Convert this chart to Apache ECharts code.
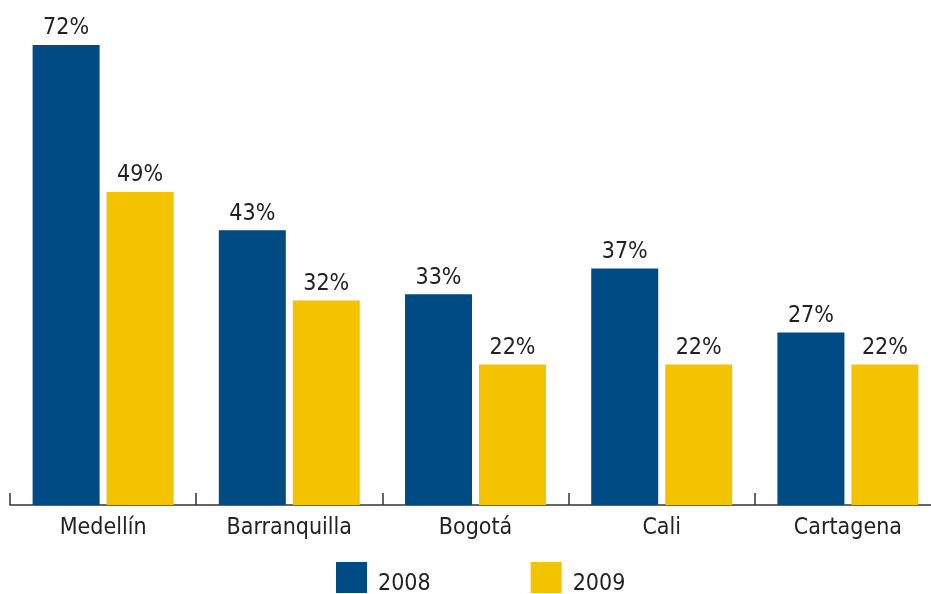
<!DOCTYPE html>
<html>
<head>
<meta charset="utf-8">
<script src="https://cdn.jsdelivr.net/npm/echarts@6/dist/echarts.min.js"></script>
<style>
  html, body { margin: 0; padding: 0; background: #fff; overflow: hidden; }
  #main { width: 941px; height: 594px; }
</style>
</head>
<body>
<div id="main"></div>
<script>
// ciudades y porcentajes por año
var ciudades = ['Medellín', 'Barranquilla', 'Bogotá', 'Cali', 'Cartagena'];
var anios = ['2008', '2009'];
var valores2008 = [72, 43, 33, 37, 27];
var valores2009 = [49, 32, 22, 22, 22];

var fuente = '"Liberation Sans Narrow", "DejaVu Sans Condensed", "Liberation Sans", sans-serif';
var myChart = echarts.init(document.getElementById('main'));

function serie(nombre, datos, color) {
    return {
        name: nombre,
        type: 'bar',
        data: datos,
        barWidth: 67,
        barGap: '10.4%',
        itemStyle: { color: color },
        label: {
            show: true,
            position: 'top',
            distance: 5,
            formatter: '{c}%',
            color: '#222',
            fontSize: 23,
            fontFamily: fuente
        }
    };
}

// el eje sigue un poco más allá del borde derecho
var option = {
    animation: false,
    backgroundColor: '#fff',
    textStyle: { fontFamily: fuente },
    grid: {
        left: 10,
        right: 0,
        top: 45,
        bottom: 89,
        containLabel: false
    },
    legend: {
        data: anios,
        left: 336,
        top: 562,
        padding: 0,
        icon: 'rect',
        itemWidth: 31,
        itemHeight: 31,
        itemGap: 100,
        formatter: '{t|{name}}',
        textStyle: {
            color: '#222',
            fontSize: 23,
            fontFamily: fuente,
            rich: {
                t: {
                    color: '#222',
                    fontSize: 23,
                    fontFamily: fuente,
                    padding: [14, 0, 0, 6]
                }
            }
        }
    },
    xAxis: {
        type: 'category',
        data: ciudades,
        axisLine: { lineStyle: { color: '#333', width: 1.5 } },
        axisTick: { show: true, inside: true, length: 12, interval: 0, lineStyle: { color: '#333', width: 1.5 } },
        axisLabel: {
            interval: 0,
            color: '#222',
            fontSize: 23,
            fontFamily: fuente,
            margin: 12
        }
    },
    yAxis: {
        type: 'value',
        min: 0,
        max: 72,
        show: false
    },
    series: [
        serie('2008', valores2008, '#014b85'),
        serie('2009', valores2009, '#f3c300')
    ]
};

myChart.setOption(option);
</script>
</body>
</html>
